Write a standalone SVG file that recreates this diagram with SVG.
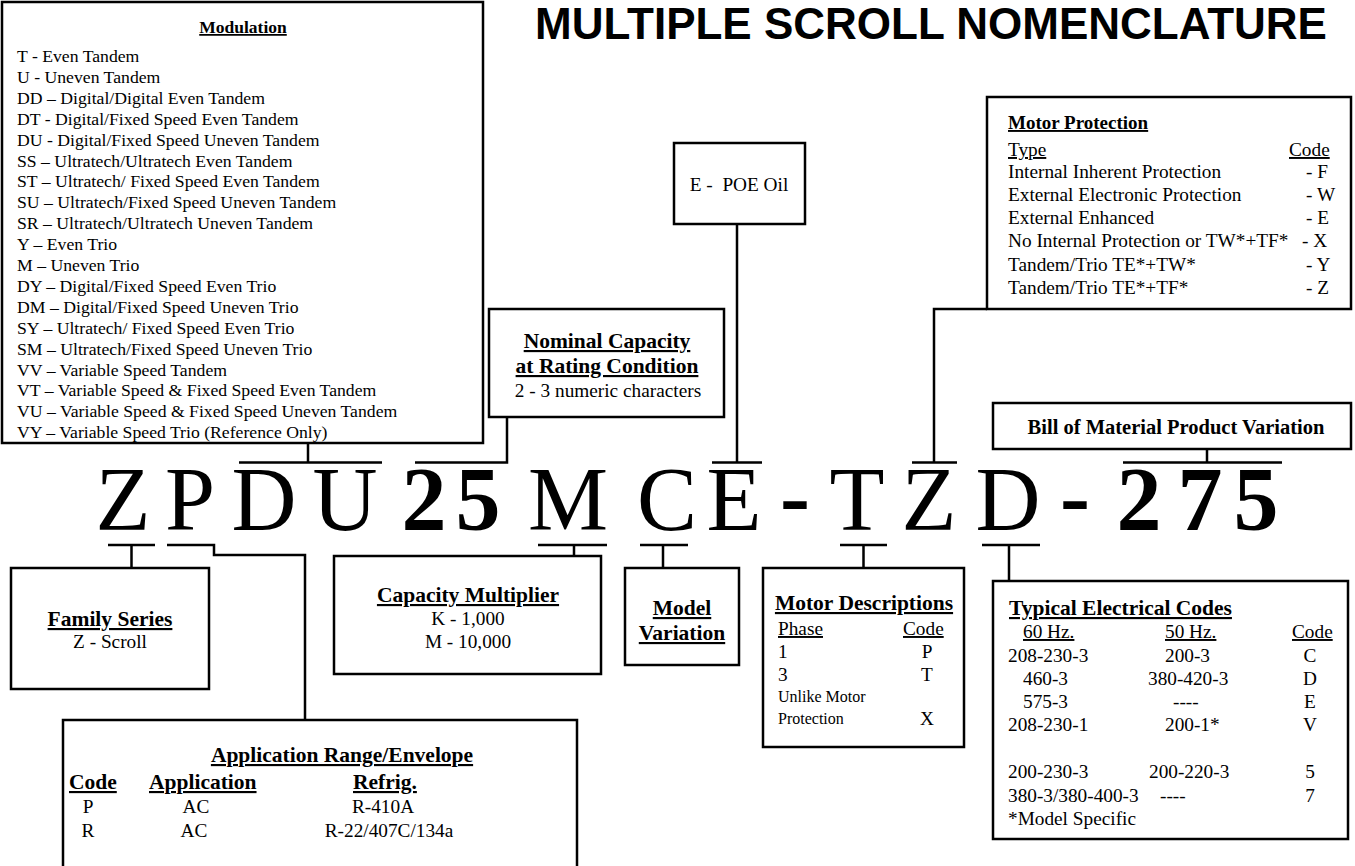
<svg xmlns="http://www.w3.org/2000/svg" width="1355" height="866" viewBox="0 0 1355 866">
<style>
.box{fill:#fff;stroke:#000;stroke-width:2.5}
.ln{fill:none;stroke:#000;stroke-width:2.5}
text{font-family:"Liberation Serif","Times New Roman",serif;fill:#000}
.m{font-size:17.7px}
.mh{font-size:17.5px;font-weight:bold;text-decoration:underline}
.t{font-size:19.3px}
.h{font-size:21.5px;font-weight:bold;text-decoration:underline}
.u{text-decoration:underline}
.s{font-size:16px}
.c{text-anchor:middle}
.big{font-size:90px;text-anchor:middle}
.b{font-weight:bold}
.title{font-family:"Liberation Sans",Arial,sans-serif;font-size:44px;font-weight:bold}
</style>
<rect width="1355" height="866" fill="#fff"/>
<text class="title" x="535" y="39">MULTIPLE SCROLL NOMENCLATURE</text>

<g id="connectors">
<path class="ln" d="M239,462.5H382M308,462.5V443"/>
<path class="ln" d="M415,462.5H507V417"/>
<path class="ln" d="M712,462.5H762M737,462.5V224"/>
<path class="ln" d="M912,462.5H957M934,462.5V309H987"/>
<path class="ln" d="M1123,462.5H1282M1207,462.5V449"/>
<path class="ln" d="M108,545H155M131.5,545V568"/>
<path class="ln" d="M167,545H214V555H305V720"/>
<path class="ln" d="M538,545H607M574,545V556"/>
<path class="ln" d="M640,545H688M663,545V568"/>
<path class="ln" d="M840,545H887M863.5,545V568"/>
<path class="ln" d="M982,545H1040M1009,545V581"/>
</g>

<g id="code">
<text class="big" x="123" y="530">Z</text>
<text class="big" x="190" y="530">P</text>
<text class="big" x="264" y="530">D</text>
<text class="big" x="345" y="530">U</text>
<text class="big b" x="424" y="530">2</text>
<text class="big b" x="478" y="530">5</text>
<text class="big" x="568" y="530">M</text>
<text class="big" x="667" y="530">C</text>
<text class="big" x="734" y="530">E</text>
<text class="big b" x="795" y="527">-</text>
<text class="big" x="857" y="530">T</text>
<text class="big" x="929" y="530">Z</text>
<text class="big" x="1008" y="530">D</text>
<text class="big b" x="1075" y="527">-</text>
<text class="big b" x="1139" y="530">2</text>
<text class="big b" x="1200" y="530">7</text>
<text class="big b" x="1256" y="530">5</text>
</g>

<g id="modulation">
<rect class="box" x="2" y="2" width="481" height="441"/>
<text class="mh c" x="243" y="33">Modulation</text>
<text class="m" x="17" y="62">T - Even Tandem</text>
<text class="m" x="17" y="82.9">U - Uneven Tandem</text>
<text class="m" x="17" y="103.8">DD – Digital/Digital Even Tandem</text>
<text class="m" x="17" y="124.7">DT - Digital/Fixed Speed Even Tandem</text>
<text class="m" x="17" y="145.6">DU - Digital/Fixed Speed Uneven Tandem</text>
<text class="m" x="17" y="166.5">SS – Ultratech/Ultratech Even Tandem</text>
<text class="m" x="17" y="187.4">ST – Ultratech/ Fixed Speed Even Tandem</text>
<text class="m" x="17" y="208.3">SU – Ultratech/Fixed Speed Uneven Tandem</text>
<text class="m" x="17" y="229.2">SR – Ultratech/Ultratech Uneven Tandem</text>
<text class="m" x="17" y="250.1">Y – Even Trio</text>
<text class="m" x="17" y="271">M – Uneven Trio</text>
<text class="m" x="17" y="291.9">DY – Digital/Fixed Speed Even Trio</text>
<text class="m" x="17" y="312.8">DM – Digital/Fixed Speed Uneven Trio</text>
<text class="m" x="17" y="333.7">SY – Ultratech/ Fixed Speed Even Trio</text>
<text class="m" x="17" y="354.6">SM – Ultratech/Fixed Speed Uneven Trio</text>
<text class="m" x="17" y="375.5">VV – Variable Speed Tandem</text>
<text class="m" x="17" y="396.4">VT – Variable Speed &amp; Fixed Speed Even Tandem</text>
<text class="m" x="17" y="417.3">VU – Variable Speed &amp; Fixed Speed Uneven Tandem</text>
<text class="m" x="17" y="438.2">VY – Variable Speed Trio (Reference Only)</text>
</g>

<g id="oil">
<rect class="box" x="674" y="143" width="131" height="81"/>
<text class="t c" x="739" y="191">E -&#160; POE Oil</text>
</g>

<g id="nominal">
<rect class="box" x="489" y="309" width="235" height="108"/>
<text class="h c" x="607" y="348">Nominal Capacity</text>
<text class="h c" x="607" y="373">at Rating Condition</text>
<text class="t c" x="608" y="397">2 - 3 numeric characters</text>
</g>

<g id="motor-protection">
<rect class="box" x="987" y="97" width="364" height="212"/>
<text class="t b u" x="1008" y="129" style="font-size:19px">Motor Protection</text>
<text class="t u" x="1008" y="156">Type</text>
<text class="t u" x="1289" y="156">Code</text>
<text class="t" x="1008" y="178">Internal Inherent Protection</text>
<text class="t" x="1306" y="178">- F</text>
<text class="t" x="1008" y="201">External Electronic Protection</text>
<text class="t" x="1306" y="201">- W</text>
<text class="t" x="1008" y="224">External Enhanced</text>
<text class="t" x="1306" y="224">- E</text>
<text class="t" x="1008" y="247">No Internal Protection or TW*+TF*</text>
<text class="t" x="1302" y="247">- X</text>
<text class="t" x="1008" y="271">Tandem/Trio TE*+TW*</text>
<text class="t" x="1306" y="271">- Y</text>
<text class="t" x="1008" y="294">Tandem/Trio TE*+TF*</text>
<text class="t" x="1306" y="294">- Z</text>
</g>

<g id="bom">
<rect class="box" x="993" y="403" width="358" height="46"/>
<text class="t b c" x="1176" y="434" style="font-size:20.5px">Bill of Material Product Variation</text>
</g>

<g id="family">
<rect class="box" x="11" y="568" width="198" height="121"/>
<text class="h c" x="110" y="626">Family Series</text>
<text class="t c" x="110" y="648">Z - Scroll</text>
</g>

<g id="application">
<rect class="box" x="63" y="720" width="514" height="160"/>
<text class="h c" x="342" y="762">Application Range/Envelope</text>
<text class="h" x="69" y="789">Code</text>
<text class="h" x="149" y="789">Application</text>
<text class="h" x="353" y="789">Refrig.</text>
<text class="t c" x="88" y="813">P</text>
<text class="t c" x="196" y="813">AC</text>
<text class="t c" x="383" y="813">R-410A</text>
<text class="t c" x="88" y="837">R</text>
<text class="t c" x="194" y="837">AC</text>
<text class="t c" x="389" y="837">R-22/407C/134a</text>
</g>

<g id="capacity">
<rect class="box" x="334" y="556" width="267" height="118"/>
<text class="h c" x="468" y="602">Capacity Multiplier</text>
<text class="t c" x="468" y="625">K - 1,000</text>
<text class="t c" x="468" y="648">M - 10,000</text>
</g>

<g id="model">
<rect class="box" x="625" y="568" width="114" height="97"/>
<text class="h c" x="682" y="615">Model</text>
<text class="h c" x="682" y="640">Variation</text>
</g>

<g id="motor-desc">
<rect class="box" x="763" y="568" width="201" height="179"/>
<text class="h c" x="864" y="610">Motor Descriptions</text>
<text class="t u" x="778" y="635">Phase</text>
<text class="t u" x="903" y="635">Code</text>
<text class="t" x="778" y="658">1</text>
<text class="t c" x="927" y="658">P</text>
<text class="t" x="778" y="681">3</text>
<text class="t c" x="927" y="681">T</text>
<text class="s" x="778" y="702">Unlike Motor</text>
<text class="s" x="778" y="724">Protection</text>
<text class="t c" x="927" y="725">X</text>
</g>

<g id="electrical">
<rect class="box" x="993" y="581" width="355" height="258"/>
<text class="h" x="1009" y="615">Typical Electrical Codes</text>
<text class="t u" x="1023" y="638">60 Hz.</text>
<text class="t u" x="1165" y="638">50 Hz.</text>
<text class="t u" x="1292" y="638">Code</text>
<text class="t" x="1008" y="662">208-230-3</text><text class="t" x="1165" y="662">200-3</text><text class="t c" x="1310" y="662">C</text>
<text class="t" x="1023" y="685">460-3</text><text class="t" x="1148" y="685">380-420-3</text><text class="t c" x="1310" y="685">D</text>
<text class="t" x="1023" y="708">575-3</text><text class="t" x="1173" y="708">----</text><text class="t c" x="1310" y="708">E</text>
<text class="t" x="1008" y="731">208-230-1</text><text class="t" x="1165" y="731">200-1*</text><text class="t c" x="1310" y="731">V</text>
<text class="t" x="1008" y="778">200-230-3</text><text class="t" x="1149" y="778">200-220-3</text><text class="t c" x="1310" y="778">5</text>
<text class="t" x="1008" y="802">380-3/380-400-3</text><text class="t" x="1160" y="802">----</text><text class="t c" x="1310" y="802">7</text>
<text class="t" x="1008" y="825">*Model Specific</text>
</g>
</svg>
